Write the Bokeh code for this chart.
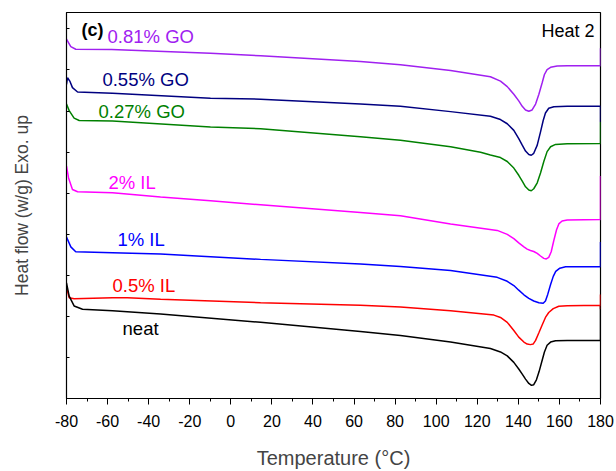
from bokeh.plotting import figure
from bokeh.models import Range1d, SingleIntervalTicker, FixedTicker, Label
from bokeh.embed import file_html
from bokeh.resources import INLINE

FONT = "Liberation Sans"

# Temperature (°C) and heat flow (arbitrary offset units) for each trace
go081_t = [-80, -78.9, -77.9, -75.5, -58, -9.9, 14.5, 63.1, 82.6, 107, 126.4, 131.3, 134.6, 137.8, 140.2, 141.9, 143.5, 145.1, 146.7, 148.4, 150, 151.6, 152.7, 154, 155.7, 158.9, 163.8, 180, 180]
go081_y = [8.753, 8.657, 8.568, 8.506, 8.501, 8.410, 8.345, 8.209, 8.129, 7.986, 7.835, 7.729, 7.595, 7.410, 7.249, 7.115, 7.026, 6.995, 7.026, 7.170, 7.410, 7.691, 7.890, 8.010, 8.065, 8.098, 8.106, 8.106, 8.530]

go055_t = [-80, -79.5, -78.3, -77.1, -74.6, -57.6, -9.9, 14.5, 63.1, 82.6, 107, 126.4, 131.3, 134.6, 137.8, 140.2, 141.9, 143.5, 145.1, 146.3, 147.5, 149.2, 150.8, 152.1, 153.2, 154.8, 157.3, 163.8, 180, 180]
go055_y = [7.650, 7.811, 7.722, 7.571, 7.465, 7.434, 7.314, 7.290, 7.170, 7.115, 6.986, 6.875, 6.794, 6.691, 6.530, 6.331, 6.170, 6.026, 5.940, 5.923, 5.971, 6.170, 6.492, 6.770, 6.954, 7.067, 7.106, 7.115, 7.115, 6.731]

go027_t = [-80, -78.7, -76.3, -73.8, -57.6, -9.9, 14.5, 63.1, 82.6, 107, 121.6, 126.4, 131.3, 134.6, 137.8, 140.2, 141.9, 143.5, 145.1, 146.3, 147.5, 149.2, 150.8, 152.4, 154, 155.7, 158.1, 163.8, 180, 180]
go027_y = [7.170, 7.010, 6.827, 6.770, 6.755, 6.612, 6.571, 6.372, 6.290, 6.132, 5.995, 5.930, 5.868, 5.772, 5.612, 5.436, 5.293, 5.156, 5.077, 5.060, 5.108, 5.252, 5.492, 5.772, 6.012, 6.132, 6.187, 6.204, 6.211, 6.731]

il2_t = [-80, -79.0, -77.1, -74.6, -57.6, -34.2, -9.9, 14.5, 63.1, 82.6, 107, 129.7, 134.6, 137.8, 140.2, 142.7, 144.3, 145.9, 147.5, 149.2, 150.8, 152.4, 153.6, 154.8, 156, 157.3, 158.6, 159.7, 161.3, 163.8, 180, 180]
il2_y = [5.659, 5.372, 5.091, 5.036, 5.012, 4.909, 4.813, 4.717, 4.532, 4.453, 4.252, 4.094, 3.998, 3.892, 3.789, 3.693, 3.638, 3.604, 3.580, 3.532, 3.470, 3.412, 3.398, 3.436, 3.573, 3.854, 4.108, 4.252, 4.324, 4.348, 4.357, 5.420]

il1_t = [-80, -77.9, -75.5, -57.6, -34.2, -9.9, 14.5, 63.1, 82.6, 107, 129.7, 134.6, 137.8, 140.2, 142.7, 145.1, 147.5, 150, 152.1, 153.2, 154.3, 155.7, 157, 158.2, 160.2, 163, 180, 180]
il1_y = [3.933, 3.693, 3.573, 3.549, 3.518, 3.453, 3.388, 3.278, 3.213, 3.118, 2.950, 2.854, 2.751, 2.638, 2.525, 2.439, 2.374, 2.333, 2.319, 2.374, 2.535, 2.775, 2.974, 3.094, 3.173, 3.206, 3.206, 3.813]

il05_t = [-79.7, -78.7, -76.3, -57.6, -50.3, -34.2, 14.5, 63.1, 82.6, 107, 128.1, 131.3, 134.6, 137.8, 140.2, 142.7, 144.3, 145.9, 147.2, 148.4, 150, 151.6, 153.2, 154.8, 157, 159.7, 163.8, 180, 180, 180]
il05_y = [2.655, 2.453, 2.429, 2.453, 2.453, 2.415, 2.333, 2.271, 2.230, 2.134, 2.031, 1.974, 1.854, 1.655, 1.494, 1.374, 1.326, 1.312, 1.326, 1.415, 1.600, 1.791, 1.974, 2.094, 2.189, 2.247, 2.261, 2.271, 2.535, 2.175]

neat_t = [-80, -78.7, -76.3, -72.2, -57.6, -34.2, 14.5, 63.1, 82.6, 107, 126.4, 131.3, 134.6, 137.8, 140.2, 141.9, 143.5, 145.1, 146.4, 147.5, 148.8, 150.1, 151.4, 152.7, 154, 155.7, 158.1, 163.8, 180, 180]
neat_y = [2.813, 2.494, 2.254, 2.175, 2.134, 2.055, 1.854, 1.631, 1.535, 1.374, 1.216, 1.134, 1.038, 0.880, 0.719, 0.592, 0.472, 0.367, 0.319, 0.336, 0.456, 0.655, 0.894, 1.134, 1.295, 1.374, 1.408, 1.415, 1.415, 2.254]

series_names = ["0.81% GO", "0.55% GO", "0.27% GO", "2% IL", "1% IL", "0.5% IL", "neat"]
series_colors = ["#A020F0", "#000080", "#008000", "#FF00FF", "#0000FF", "#FF0000", "#000000"]
series_t = [go081_t, go055_t, go027_t, il2_t, il1_t, il05_t, neat_t]
series_y = [go081_y, go055_y, go027_y, il2_y, il1_y, il05_y, neat_y]
# label anchor (left edge x, middle y) in data units
label_x = [-60.0, -62.5, -64.4, -59.6, -55.2, -57.6, -52.7]
label_y = [8.82, 7.77, 6.98, 5.25, 3.88, 2.76, 1.70]

x_ticks = [-80, -60, -40, -20, 0, 20, 40, 60, 80, 100, 120, 140, 160, 180]
x_tick_labels = ["-80", "-60", "-40", "-20", "0", "20", "40", "60", "80", "100", "120", "140", "160", "180"]
y_ticks = list(range(10))

p = figure(width=616, height=471, x_range=Range1d(-80, 180), y_range=Range1d(0, 9.4),
           output_backend="svg", toolbar_location=None,
           min_border_left=66, min_border_right=16, min_border_top=12, min_border_bottom=67,
           x_axis_label="Temperature (°C)", y_axis_label="Heat flow (w/g) Exo. up")
p.background_fill_color = "white"
p.border_fill_color = "white"
p.xgrid.visible = False
p.ygrid.visible = False
p.outline_line_color = "black"
p.outline_line_width = 1.2

xa = p.xaxis[0]
xa.ticker = SingleIntervalTicker(interval=20, num_minor_ticks=2)
xa.major_label_overrides = {t: s for t, s in zip(x_ticks, x_tick_labels)}
xa.major_tick_in = 0
xa.major_tick_out = 6
xa.minor_tick_in = 0
xa.minor_tick_out = 3
xa.major_label_standoff = 10
xa.major_label_text_font = FONT
xa.major_label_text_font_size = "16px"
xa.major_label_text_color = "black"
xa.axis_label_text_font = FONT
xa.axis_label_text_font_size = "20px"
xa.axis_label_text_font_style = "normal"
xa.axis_label_standoff = 17
xa.axis_line_color = "black"
xa.major_tick_line_color = "black"
xa.minor_tick_line_color = "black"

ya = p.yaxis[0]
ya.ticker = FixedTicker(ticks=y_ticks, minor_ticks=[])
ya.major_tick_in = 3
ya.major_tick_out = 0
ya.major_label_text_font_size = "0px"
ya.major_label_text_color = None
ya.major_label_standoff = 0
ya.axis_label_text_font = FONT
ya.axis_label_text_font_size = "17.5px"
ya.axis_label_text_font_style = "normal"
ya.axis_label_standoff = 35
ya.axis_line_color = "black"

for t, y, c, name, lx, ly in zip(series_t, series_y, series_colors, series_names, label_x, label_y):
    p.line(t, y, line_color=c, line_width=1.5)
    p.add_layout(Label(x=lx, y=ly, text=name, text_color=c, text_font=FONT,
                       text_font_size="18.5px", text_baseline="middle", text_align="left"))

p.add_layout(Label(x=-72.7, y=8.97, text="(c)", text_font=FONT, text_font_size="18px",
                   text_font_style="bold", text_baseline="middle", text_color="black"))
p.add_layout(Label(x=177.1, y=8.94, text="Heat 2", text_font=FONT, text_font_size="18px",
                   text_baseline="middle", text_align="right", text_color="black"))

open("out.html", "w").write(file_html(p, INLINE))
